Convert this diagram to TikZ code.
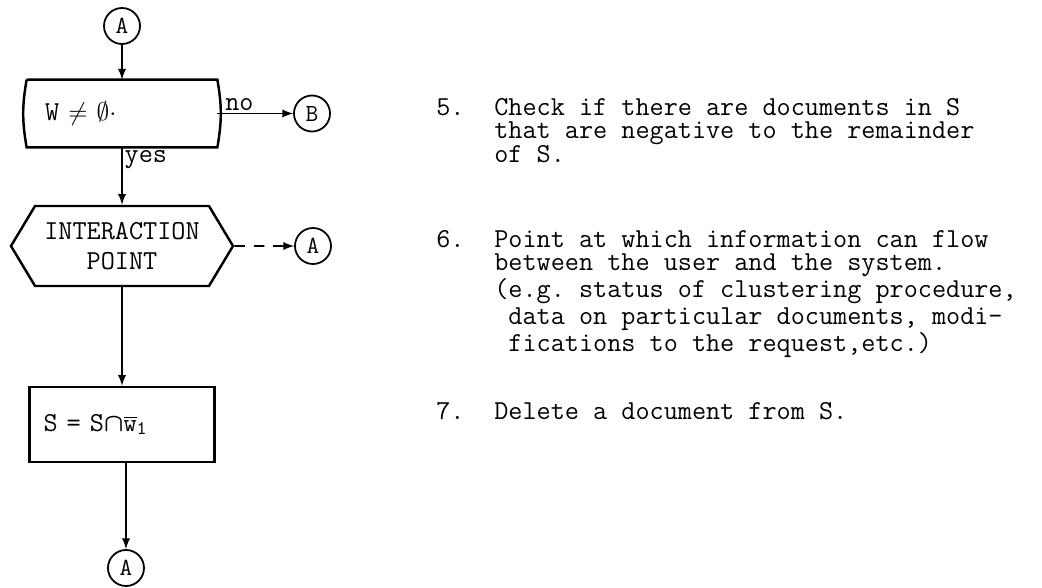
\documentclass[tikz,border=0pt]{standalone}
\usetikzlibrary{shapes.symbols}
\newcommand{\twfont}{\ttfamily\fontsize{15.6}{13.3}\selectfont\frenchspacing}
\begin{document}
\begin{tikzpicture}[
  every node/.style={font=\twfont},
  conn/.style={circle, draw, line width=1pt, minimum size=0.72cm, inner sep=0pt,
    font=\ttfamily\fontsize{14}{14}\selectfont},
  flowline/.style={line width=1.1pt, -latex},
  outline/.style={line width=1.4pt},
  testbox/.style={minimum width=3.8cm, minimum height=1.34cm, text width=3.08cm,
    inner xsep=0.36cm, align=left},
  procbox/.style={draw, outline, minimum height=1.5cm, text width=3.14cm,
    inner xsep=0.28cm, align=left},
  ipoint/.style={signal, signal to=west and east, signal pointer angle=118, draw, outline,
    minimum width=4.44cm, minimum height=1.6cm, inner sep=0pt, align=center},
  note/.style={anchor=north west, inner sep=0pt, align=left}
]
\useasboundingbox (0,0) rectangle (20.84,-11.76);

% flow chart
\node[conn] (a1) at (2.44,-0.52) {A};
\node[testbox] (test) at (2.44,-2.27) {W $\neq$ $\emptyset{\cdot}$};
\draw[outline] (test.north west) -- (test.north east) to[bend left=10] (test.south east)
  -- (test.south west) to[bend left=10] (test.north west);
\node[conn] (b) at (6.24,-2.27) {B};
\node[ipoint] (hex) at (2.44,-4.92) {INTERACTION\\[3.5pt]POINT};
\node[conn] (a2) at (6.26,-4.92) {A};
\node[procbox] (proc) at (2.44,-8.49) {S = S{\boldmath$\cap$}$\overline{\mathtt{w}}_{\mathtt{1}}$};
\node[conn] (a3) at (2.52,-11.36) {A};

\draw[flowline] (a1) -- (test);
\draw[flowline] (test) -- node[pos=0, above right, inner xsep=4pt, inner ysep=1pt] {no} (b);
\draw[flowline] (test) -- node[pos=0, below right, inner sep=1pt] {yes} (hex);
\draw[flowline, dash pattern=on 6pt off 5pt] (hex) -- (a2);
\draw[flowline] (hex) -- (proc);
\draw[flowline] (proc.south -| a3) -- (a3);

% notes
\node[note] (n5) at (8.72,-1.96) {5.};
\node[note] (t5) at (9.88,-1.96) {Check if there are documents in S\\
  that are negative to the remainder\\
  of S.};
\node[note] (n6) at (8.72,-4.60) {6.};
\node[note] (t6) at (9.88,-4.60) {Point at which information can flow\\
  between the user and the system.\\
  (e.g. status of clustering procedure,\\
  \phantom{(}data on particular documents, modi-\\
  \phantom{(}fications to the request,etc.)};
\node[note] (n7) at (8.72,-8.04) {7.};
\node[note] (t7) at (9.88,-8.04) {Delete a document from S.};
\end{tikzpicture}
\end{document}
